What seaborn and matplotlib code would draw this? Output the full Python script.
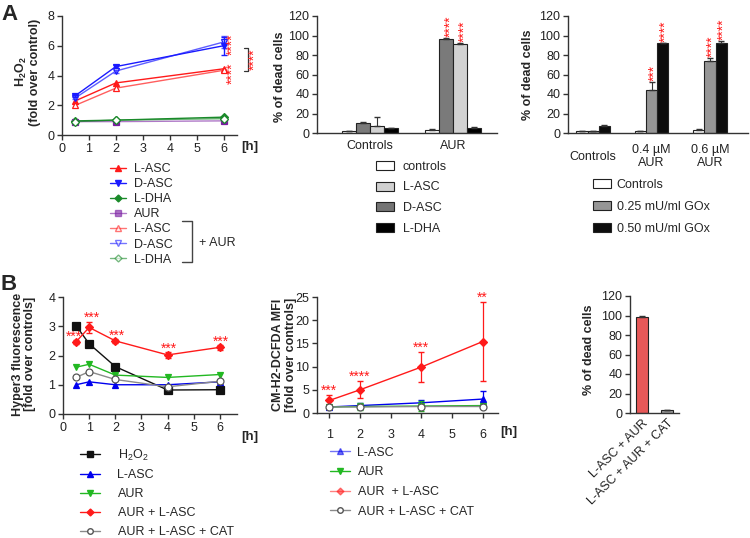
import numpy as np
import pandas as pd
import matplotlib
matplotlib.use("Agg")
import matplotlib.pyplot as plt
import seaborn as sns
from matplotlib.lines import Line2D
from matplotlib.patches import Patch

# ---------------- data ----------------
# Panel A (left): H2O2 time course
a1_time = [0.5, 2, 6]
a1_lasc = [2.3, 3.5, 4.45]
a1_dasc = [2.65, 4.6, 6.0]
a1_ldha = [0.95, 1.0, 1.2]
a1_aur = [0.9, 0.9, 0.95]
a1_lasc_aur = [2.0, 3.15, 4.35]
a1_dasc_aur = [2.5, 4.3, 6.25]
a1_ldha_aur = [0.9, 1.0, 1.1]
a1_dasc_err = [0.1, 0.1, 0.6]
a1_dasc_aur_err = [0.1, 0.1, 0.4]

# Panel A (middle): % dead cells
a2_groups = ["Controls", "AUR"]
a2_series = ["controls", "L-ASC", "D-ASC", "L-DHA"]
a2_values = {"controls": [2, 3.5], "L-ASC": [10.5, 96.5], "D-ASC": [7.5, 91.5], "L-DHA": [5, 5.5]}
a2_errors = {"controls": [0.4, 0.3], "L-ASC": [0.5, 0.6], "D-ASC": [8.5, 0.8], "L-DHA": [0.3, 0.5]}
a2_stars = {"L-ASC": [None, "****"], "D-ASC": [None, "****"]}

# Panel A (right): % dead cells with GOx
a3_groups = ["Controls", "0.4 µM\nAUR", "0.6 µM\nAUR"]
a3_series = ["Controls", "0.25 mU/ml GOx", "0.50 mU/ml GOx"]
a3_values = {"Controls": [2, 2, 3.5], "0.25 mU/ml GOx": [2, 44.5, 74], "0.50 mU/ml GOx": [7.5, 92, 92.5]}
a3_errors = {"Controls": [0.3, 0.3, 0.3], "0.25 mU/ml GOx": [0.3, 7.5, 2.5], "0.50 mU/ml GOx": [1.0, 0.6, 1.5]}
a3_stars = {"0.25 mU/ml GOx": [None, "***", "****"], "0.50 mU/ml GOx": [None, "****", "****"]}

# Panel B (left): Hyper3 fluorescence
b1_time = [0.5, 1, 2, 4, 6]
b1_h2o2 = [3.02, 2.4, 1.62, 0.82, 0.83]
b1_lasc = [1.0, 1.1, 1.0, 1.0, 1.1]
b1_aur = [1.6, 1.7, 1.33, 1.25, 1.35]
b1_aur_lasc = [2.47, 2.96, 2.5, 2.02, 2.28]
b1_aur_lasc_err = [0.06, 0.2, 0.06, 0.1, 0.08]
b1_cat = [1.25, 1.45, 1.18, 0.93, 1.12]
b1_stars = ["***", "***", "***", "***", "***"]

# Panel B (middle): CM-H2-DCFDA MFI
b2_time = [1, 2, 4, 6]
b2_lasc = [1.3, 1.6, 2.2, 3.0]
b2_lasc_err = [0.3, 0.5, 0.7, 1.8]
b2_aur = [1.3, 1.4, 1.5, 1.6]
b2_aur_err = [0.3, 0.8, 1.0, 0.4]
b2_aur_lasc = [2.7, 5.0, 9.9, 15.4]
b2_aur_lasc_err = [1.1, 1.8, 3.3, 8.5]
b2_cat = [1.3, 1.3, 1.4, 1.4]
b2_stars = ["***", "****", "***", "**"]

# Panel B (right): % dead cells
b3_labels = ["L-ASC + AUR", "L-ASC + AUR + CAT"]
b3_values = [98, 3]
b3_errors = [2, 0.3]

# ---------------- style ----------------
sns.set_theme(style="ticks")
plt.rcParams["font.family"] = ["Liberation Sans", "DejaVu Sans"]
plt.rcParams["mathtext.fontset"] = "custom"
plt.rcParams["mathtext.rm"] = "Liberation Sans"
plt.rcParams["mathtext.bf"] = "Liberation Sans:bold"
plt.rcParams["axes.edgecolor"] = "#333333"
plt.rcParams["axes.linewidth"] = 1.0
plt.rcParams["xtick.color"] = "#333333"
plt.rcParams["ytick.color"] = "#333333"
plt.rcParams["xtick.labelcolor"] = "#222222"
plt.rcParams["ytick.labelcolor"] = "#222222"

W, H = 750, 538
fig = plt.figure(figsize=(W / 100, H / 100), dpi=100)

RED = "#ff1a1a"
BLUE = "#1a1aff"
DGREEN = "#1a8a2a"
PURPLE = "#7a1fa2"
FS = 9
STAR_FS = 10


def ax_px(left, top, right, bottom):
    return fig.add_axes([left / W, 1 - bottom / H, (right - left) / W, (bottom - top) / H])


def style_ax(ax):
    sns.despine(ax=ax)
    ax.tick_params(axis="both", labelsize=FS, length=3.5, width=1.0, pad=2)
    ax.set_xlabel("")


def fig_legend(handles, labels, left, top, spacing, hlen, hpad, fontsize=FS):
    leg = fig.legend(handles, labels, loc="upper left",
                     bbox_to_anchor=(left / W, 1 - top / H), frameon=False,
                     borderpad=0, borderaxespad=0, labelspacing=spacing,
                     handlelength=hlen, handletextpad=hpad, fontsize=fontsize)
    return leg


def vstars(ax, x, y, s, color=RED, fs=STAR_FS):
    ax.text(x, y, s, rotation=90, ha="center", va="bottom", color=color,
            fontsize=fs, clip_on=False)


# ---------------- Panel A left ----------------
ax1 = ax_px(62, 16, 237, 135)
lw = 1.0
ms = 5
series_a1 = [
    (a1_lasc, "L-ASC", RED, "^", RED, 1.0),
    (a1_dasc, "D-ASC", BLUE, "v", BLUE, 1.0),
    (a1_ldha, "L-DHA", DGREEN, "D", DGREEN, 1.0),
    (a1_aur, "AUR", PURPLE, "s", PURPLE, 0.6),
    (a1_lasc_aur, "L-ASC", RED, "^", "white", 0.7),
    (a1_dasc_aur, "D-ASC", BLUE, "v", "white", 0.7),
    (a1_ldha_aur, "L-DHA", DGREEN, "D", "white", 0.7),
]
a1_handles = []
for vals, lab, col, mk, mfc, alpha in series_a1:
    msize = ms - 1 if mk == "D" else ms
    sns.lineplot(x=a1_time, y=vals, ax=ax1, color=col, alpha=alpha, linewidth=lw,
                 errorbar=None)
    ax1.plot(a1_time, vals, linestyle="none", marker=mk, markersize=msize,
             markerfacecolor=mfc, markeredgecolor=col, markeredgewidth=0.9)
    a1_handles.append(Line2D([], [], color=col, alpha=1.0 if alpha == 1.0 else 0.6, lw=lw,
                             marker=mk, markersize=msize - 0.5, markerfacecolor=mfc,
                             markeredgecolor=col))
ax1.errorbar(a1_time, a1_dasc, yerr=a1_dasc_err, fmt="none", ecolor=BLUE, elinewidth=1, capsize=2.5)
ax1.errorbar(a1_time, a1_dasc_aur, yerr=a1_dasc_aur_err, fmt="none", ecolor=BLUE, elinewidth=1,
             capsize=2.5, alpha=0.7)
ax1.set_xlim(0, 6.5)
ax1.set_ylim(0, 8)
ax1.set_xticks(range(0, 7))
ax1.set_yticks([0, 2, 4, 6, 8])
style_ax(ax1)
ax1.set_ylabel("H$_\\mathbf{2}$O$_\\mathbf{2}$\n(fold over control)", fontsize=FS,
               fontweight="bold", va="center", linespacing=1.0)
ax1.yaxis.set_label_coords(-0.195, 0.53)
vstars(ax1, 6.34, 5.35, "****")
vstars(ax1, 6.34, 3.4, "****")
# significance bracket
ax1.plot([6.75, 6.9, 6.9, 6.75], [5.85, 5.85, 4.3, 4.3], color="#333333", lw=0.9, clip_on=False)
ax1.text(7.15, 5.08, "****", rotation=90, ha="center", va="center", color=RED,
         fontsize=STAR_FS, clip_on=False)
fig.text(241 / W, 1 - 147 / H, "[h]", fontsize=FS + 0.5, fontweight="bold", va="center", ha="left")

fig_legend(a1_handles, [s[1] for s in series_a1], 110, 163, 0.25, 1.25, 0.7)
fig.add_artist(Line2D([182 / W, 192 / W, 192 / W, 182 / W],
                      [1 - 221 / H, 1 - 221 / H, 1 - 262 / H, 1 - 262 / H],
                      color="#444444", lw=1.0))
fig.text(199 / W, 1 - 243 / H, "+ AUR", fontsize=FS, va="center", ha="left")

# ---------------- Panel A middle ----------------
ax2 = ax_px(317, 16, 497, 133)
a2_df = pd.DataFrame([(g, s, a2_values[s][i]) for s in a2_series for i, g in enumerate(a2_groups)],
                     columns=["group", "series", "value"])
a2_bar_colors = {"controls": "white", "L-ASC": "#7a7a7a", "D-ASC": "#d2d2d2", "L-DHA": "black"}
a2_leg_colors = {"controls": "white", "L-ASC": "#d0d0d0", "D-ASC": "#747474", "L-DHA": "black"}
w2 = 0.68
sns.barplot(data=a2_df, x="group", y="value", hue="series", order=a2_groups, hue_order=a2_series,
            palette=a2_bar_colors, width=w2, edgecolor="#222222", linewidth=0.8, ax=ax2,
            legend=False)
n2 = len(a2_series)
for j, s in enumerate(a2_series):
    xs = [i + (j - (n2 - 1) / 2) * w2 / n2 for i in range(len(a2_groups))]
    ax2.errorbar(xs, a2_values[s], yerr=[[0] * len(xs), a2_errors[s]], fmt="none",
                 ecolor="#333333", elinewidth=0.8, capsize=2.5)
    if s in a2_stars:
        for i, st in enumerate(a2_stars[s]):
            if st:
                vstars(ax2, xs[i] + 0.06, a2_values[s][i] + a2_errors[s][i] + 1, st)
ax2.set_xlim(-0.64, 1.53)
ax2.set_ylim(0, 120)
ax2.set_yticks(range(0, 121, 20))
style_ax(ax2)
ax2.tick_params(axis="x", length=0, pad=5)
ax2.set_ylabel("% of dead cells", fontsize=FS, fontweight="bold", va="center")
ax2.yaxis.set_label_coords(-0.205, 0.48)
h2 = [Patch(facecolor=a2_leg_colors[s], edgecolor="#222222", linewidth=0.8) for s in a2_series]
fig_legend(h2, a2_series, 376, 161, 0.68, 1.4, 0.75)

# ---------------- Panel A right ----------------
ax3 = ax_px(568, 16, 748, 133)
a3_df = pd.DataFrame([(g, s, a3_values[s][i]) for s in a3_series for i, g in enumerate(a3_groups)],
                     columns=["group", "series", "value"])
a3_colors = {"Controls": "white", "0.25 mU/ml GOx": "#969696", "0.50 mU/ml GOx": "#0d0d0d"}
w3 = 0.57
sns.barplot(data=a3_df, x="group", y="value", hue="series", order=a3_groups, hue_order=a3_series,
            palette=a3_colors, width=w3, edgecolor="#222222", linewidth=0.8, ax=ax3, legend=False)
n3 = len(a3_series)
for j, s in enumerate(a3_series):
    xs = [i + (j - (n3 - 1) / 2) * w3 / n3 for i in range(len(a3_groups))]
    ax3.errorbar(xs, a3_values[s], yerr=[[0] * len(xs), a3_errors[s]], fmt="none",
                 ecolor="#333333", elinewidth=0.8, capsize=2.2)
    if s in a3_stars:
        for i, st in enumerate(a3_stars[s]):
            if st:
                vstars(ax3, xs[i] + 0.05, a3_values[s][i] + a3_errors[s][i] + 1, st)
ax3.set_xlim(-0.43, 2.65)
ax3.set_ylim(0, 120)
ax3.set_yticks(range(0, 121, 20))
style_ax(ax3)
ax3.tick_params(axis="x", length=0, pad=17)
for t in ax3.get_xticklabels():
    t.set_verticalalignment("center")
    t.set_linespacing(1.05)
ax3.set_ylabel("% of dead cells", fontsize=FS, fontweight="bold", va="center")
ax3.yaxis.set_label_coords(-0.22, 0.5)
h3 = [Patch(facecolor=a3_colors[s], edgecolor="#222222", linewidth=0.8) for s in a3_series]
fig_legend(h3, a3_series, 593, 178.5, 0.8, 1.4, 0.5)

# ---------------- Panel B left ----------------
ax4 = ax_px(63, 297, 237, 414)
GREEN = "#22b822"
GRAY = "#8a8a8a"
series_b1 = [
    (b1_h2o2, "H$_2$O$_2$", "#111111", "s", "#111111", 5.5),
    (b1_lasc, "L-ASC", "#0000ee", "^", "#0000ee", 5),
    (b1_aur, "AUR", GREEN, "v", GREEN, 5),
    (b1_aur_lasc, "AUR + L-ASC", RED, "D", RED, 4.5),
    (b1_cat, "AUR + L-ASC + CAT", GRAY, "o", "white", 5),
]
b1_handles = []
for vals, lab, col, mk, mfc, msz in series_b1:
    sns.lineplot(x=b1_time, y=vals, ax=ax4, color=col, linewidth=1.0, errorbar=None)
    ax4.plot(b1_time, vals, linestyle="none", marker=mk, markersize=msz,
             markerfacecolor=mfc, markeredgecolor=("#555555" if mfc == "white" else col),
             markeredgewidth=0.9)
    b1_handles.append(Line2D([], [], color=col, lw=1.0, marker=mk, markersize=msz - 1,
                             markerfacecolor=mfc,
                             markeredgecolor=("#555555" if mfc == "white" else col)))
ax4.errorbar(b1_time, b1_aur_lasc, yerr=b1_aur_lasc_err, fmt="none", ecolor=RED, elinewidth=0.9,
             capsize=2.2)
b1_star_dx = [-0.08, 0.1, 0.07, 0.05, 0.03]
for x, y, e, s, dx in zip(b1_time, b1_aur_lasc, b1_aur_lasc_err, b1_stars, b1_star_dx):
    ax4.text(x + dx, y + e + 0.12, s, ha="center", va="center", color=RED, fontsize=STAR_FS)
ax4.set_xlim(0, 6.65)
ax4.set_ylim(0, 4)
ax4.set_xticks(range(0, 7))
ax4.set_yticks(range(0, 5))
style_ax(ax4)
ax4.set_ylabel("Hyper3 fluorescence\n[fold over controls]", fontsize=FS, fontweight="bold",
               va="center", linespacing=1.05)
ax4.yaxis.set_label_coords(-0.225, 0.51)
fig.text(241 / W, 1 - 437 / H, "[h]", fontsize=FS + 0.5, fontweight="bold", va="center", ha="left")
fig_legend(b1_handles, [s[1] for s in series_b1], 80, 447.5, 0.55, 1.6, 1.4)

# ---------------- Panel B middle ----------------
ax5 = ax_px(317, 297, 498, 413)
series_b2 = [
    (b2_lasc, b2_lasc_err, "L-ASC", "#0000ee", "^", "#0000ee", 5),
    (b2_aur, b2_aur_err, "AUR", GREEN, "v", GREEN, 5),
    (b2_aur_lasc, b2_aur_lasc_err, "AUR  + L-ASC", RED, "D", RED, 4.5),
    (b2_cat, None, "AUR + L-ASC + CAT", GRAY, "o", "white", 5),
]
b2_handles = []
for vals, err, lab, col, mk, mfc, msz in series_b2:
    sns.lineplot(x=b2_time, y=vals, ax=ax5, color=col, linewidth=1.0, errorbar=None)
    if err is not None:
        ax5.errorbar(b2_time, vals, yerr=err, fmt="none", ecolor=col, elinewidth=0.9, capsize=2.5)
    ax5.plot(b2_time, vals, linestyle="none", marker=mk, markersize=msz,
             markerfacecolor=mfc, markeredgecolor=("#555555" if mfc == "white" else col),
             markeredgewidth=0.9)
    b2_handles.append(Line2D([], [], color=col, lw=1.0, alpha=(0.55 if col in (RED, "#0000ee") else 1),
                             marker=mk, markersize=msz - 1, markerfacecolor=mfc,
                             markeredgecolor=("#555555" if mfc == "white" else col)))
for x, y, e, s in zip(b2_time, b2_aur_lasc, b2_aur_lasc_err, b2_stars):
    ax5.text(x, y + e + 0.9, s, ha="center", va="center", color=RED, fontsize=STAR_FS,
             clip_on=False)
ax5.set_xlim(0.6, 6.5)
ax5.set_ylim(0, 25)
ax5.set_xticks(range(1, 7))
ax5.set_yticks(range(0, 26, 5))
style_ax(ax5)
ax5.tick_params(axis="x", pad=8)
ax5.set_ylabel("CM-H2-DCFDA MFI\n[fold over controls]", fontsize=FS, fontweight="bold",
               va="center", linespacing=1.05)
ax5.yaxis.set_label_coords(-0.18, 0.5)
fig.text(500 / W, 1 - 432 / H, "[h]", fontsize=FS + 0.5, fontweight="bold", va="center", ha="left")
fig_legend(b2_handles, [s[2] for s in series_b2], 330, 446.5, 0.62, 1.6, 0.6)

# ---------------- Panel B right ----------------
ax6 = ax_px(630, 296, 679, 413)
b3_df = pd.DataFrame({"cond": b3_labels, "value": b3_values})
sns.barplot(data=b3_df, x="cond", y="value", hue="cond", palette=["#ff4040", "#9a9a9a"],
            width=0.48, edgecolor="#222222", linewidth=0.8, ax=ax6, legend=False)
ax6.errorbar(range(len(b3_values)), b3_values, yerr=[[0] * len(b3_values), b3_errors], fmt="none",
             ecolor="#333333", elinewidth=0.8, capsize=2.5)
ax6.set_xlim(-0.48, 1.48)
ax6.set_ylim(0, 120)
ax6.set_yticks(range(0, 121, 20))
style_ax(ax6)
ax6.tick_params(axis="x", length=0, pad=3)
ax6.set_xticks(range(len(b3_labels)))
ax6.set_xticklabels(b3_labels, rotation=45, ha="right", rotation_mode="anchor", fontsize=FS)
ax6.set_ylabel("% of dead cells", fontsize=FS, fontweight="bold", va="center")
ax6.yaxis.set_label_coords(-0.83, 0.54)

# panel letters
fig.text(1 / W, 1 - 14 / H, "A", fontsize=16, fontweight="bold", va="center", ha="left")
fig.text(1 / W, 1 - 284 / H, "B", fontsize=16, fontweight="bold", va="center", ha="left")

fig.savefig("out.png", dpi=100)
